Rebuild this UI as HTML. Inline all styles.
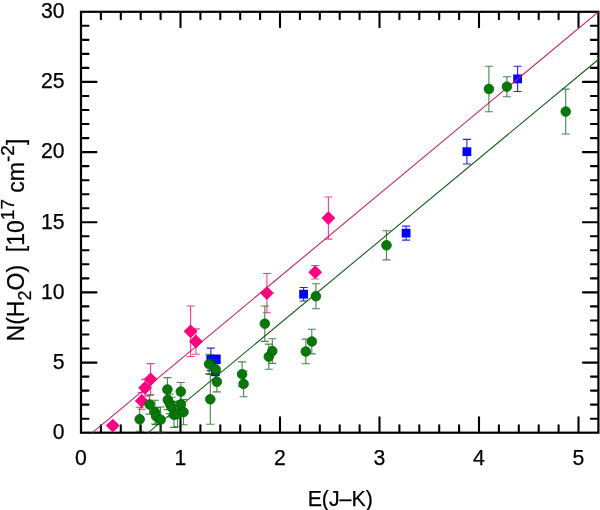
<!DOCTYPE html>
<html><head><meta charset="utf-8"><title>N(H2O) vs E(J-K)</title>
<style>html,body{margin:0;padding:0;background:#fff}svg{display:block}text{font-family:"Liberation Sans",Arial,sans-serif;font-size:21.2px;white-space:pre;fill:#000;stroke:#000;stroke-width:0.25px}</style>
</head><body>
<svg width="600" height="510" viewBox="0 0 600 510">
<rect width="600" height="510" fill="#fff"/>
<g>
<rect x="81.0" y="11.8" width="517.4" height="420.9" fill="none" stroke="#000" stroke-width="2.2"/>
<path d="M100.9 432.2v-7.0M100.9 12.3v7.0M120.8 432.2v-7.0M120.8 12.3v7.0M140.7 432.2v-7.0M140.7 12.3v7.0M160.6 432.2v-7.0M160.6 12.3v7.0M180.5 432.2v-15.0M180.5 12.3v15.0M200.4 432.2v-7.0M200.4 12.3v7.0M220.3 432.2v-7.0M220.3 12.3v7.0M240.2 432.2v-7.0M240.2 12.3v7.0M260.1 432.2v-7.0M260.1 12.3v7.0M280.0 432.2v-15.0M280.0 12.3v15.0M299.9 432.2v-7.0M299.9 12.3v7.0M319.8 432.2v-7.0M319.8 12.3v7.0M339.7 432.2v-7.0M339.7 12.3v7.0M359.6 432.2v-7.0M359.6 12.3v7.0M379.5 432.2v-15.0M379.5 12.3v15.0M399.4 432.2v-7.0M399.4 12.3v7.0M419.3 432.2v-7.0M419.3 12.3v7.0M439.2 432.2v-7.0M439.2 12.3v7.0M459.1 432.2v-7.0M459.1 12.3v7.0M479.0 432.2v-15.0M479.0 12.3v15.0M498.9 432.2v-7.0M498.9 12.3v7.0M518.8 432.2v-7.0M518.8 12.3v7.0M538.7 432.2v-7.0M538.7 12.3v7.0M558.6 432.2v-7.0M558.6 12.3v7.0M578.5 432.2v-15.0M578.5 12.3v15.0M81.5 418.7h7.0M597.9 418.7h-7.0M81.5 404.6h7.0M597.9 404.6h-7.0M81.5 390.6h7.0M597.9 390.6h-7.0M81.5 376.6h7.0M597.9 376.6h-7.0M81.5 362.6h15.0M597.9 362.6h-15.0M81.5 348.5h7.0M597.9 348.5h-7.0M81.5 334.5h7.0M597.9 334.5h-7.0M81.5 320.5h7.0M597.9 320.5h-7.0M81.5 306.4h7.0M597.9 306.4h-7.0M81.5 292.4h15.0M597.9 292.4h-15.0M81.5 278.4h7.0M597.9 278.4h-7.0M81.5 264.3h7.0M597.9 264.3h-7.0M81.5 250.3h7.0M597.9 250.3h-7.0M81.5 236.3h7.0M597.9 236.3h-7.0M81.5 222.2h15.0M597.9 222.2h-15.0M81.5 208.2h7.0M597.9 208.2h-7.0M81.5 194.2h7.0M597.9 194.2h-7.0M81.5 180.2h7.0M597.9 180.2h-7.0M81.5 166.1h7.0M597.9 166.1h-7.0M81.5 152.1h15.0M597.9 152.1h-15.0M81.5 138.1h7.0M597.9 138.1h-7.0M81.5 124.0h7.0M597.9 124.0h-7.0M81.5 110.0h7.0M597.9 110.0h-7.0M81.5 96.0h7.0M597.9 96.0h-7.0M81.5 81.9h15.0M597.9 81.9h-15.0M81.5 67.9h7.0M597.9 67.9h-7.0M81.5 53.9h7.0M597.9 53.9h-7.0M81.5 39.9h7.0M597.9 39.9h-7.0M81.5 25.8h7.0M597.9 25.8h-7.0" stroke="#000" stroke-width="2.1" stroke-linecap="round" fill="none"/>
</g>
<g>
<path d="M210.8 348.1V370.6M206.8 348.1h8M206.8 370.6h8" stroke="#0000d8" stroke-width="1.1" fill="none" opacity="0.85"/>
<path d="M216.3 355.1V363.6M212.3 355.1h8M212.3 363.6h8" stroke="#0000d8" stroke-width="1.1" fill="none" opacity="0.85"/>
<path d="M215.3 367.2V375.6M211.3 367.2h8M211.3 375.6h8" stroke="#0000d8" stroke-width="1.1" fill="none" opacity="0.85"/>
<path d="M303.6 287.5V301.0M299.6 287.5h8M299.6 301.0h8" stroke="#0000d8" stroke-width="1.1" fill="none" opacity="0.85"/>
<path d="M406.1 226.1V240.1M402.1 226.1h8M402.1 240.1h8" stroke="#0000d8" stroke-width="1.1" fill="none" opacity="0.85"/>
<path d="M466.9 139.4V164.0M462.9 139.4h8M462.9 164.0h8" stroke="#0000d8" stroke-width="1.1" fill="none" opacity="0.85"/>
<path d="M517.6 66.3V91.5M513.6 66.3h8M513.6 91.5h8" stroke="#0000d8" stroke-width="1.1" fill="none" opacity="0.85"/>
<rect x="206.4" y="354.9" width="8.8" height="8.8" fill="#0000ff"/>
<rect x="211.9" y="354.9" width="8.8" height="8.8" fill="#0000ff"/>
<rect x="210.9" y="367.0" width="8.8" height="8.8" fill="#0000ff"/>
<rect x="299.2" y="289.8" width="8.8" height="8.8" fill="#0000ff"/>
<rect x="401.7" y="228.7" width="8.8" height="8.8" fill="#0000ff"/>
<rect x="462.5" y="147.3" width="8.8" height="8.8" fill="#0000ff"/>
<rect x="513.2" y="74.5" width="8.8" height="8.8" fill="#0000ff"/>
<path d="M112.8 422.8V428.4M108.8 422.8h8M108.8 428.4h8" stroke="#f0107c" stroke-width="1.1" fill="none" opacity="0.8"/>
<path d="M141.7 392.5V409.3M137.7 392.5h8M137.7 409.3h8" stroke="#f0107c" stroke-width="1.1" fill="none" opacity="0.8"/>
<path d="M145.1 379.4V396.2M141.1 379.4h8M141.1 396.2h8" stroke="#f0107c" stroke-width="1.1" fill="none" opacity="0.8"/>
<path d="M150.6 363.6V395.0M146.6 363.6h8M146.6 395.0h8" stroke="#f0107c" stroke-width="1.1" fill="none" opacity="0.8"/>
<path d="M190.6 306.0V356.5M186.6 306.0h8M186.6 356.5h8" stroke="#f0107c" stroke-width="1.1" fill="none" opacity="0.8"/>
<path d="M195.9 328.9V354.2M191.9 328.9h8M191.9 354.2h8" stroke="#f0107c" stroke-width="1.1" fill="none" opacity="0.8"/>
<path d="M266.9 273.5V312.8M262.9 273.5h8M262.9 312.8h8" stroke="#f0107c" stroke-width="1.1" fill="none" opacity="0.8"/>
<path d="M315.2 265.5V279.0M311.2 265.5h8M311.2 279.0h8" stroke="#f0107c" stroke-width="1.1" fill="none" opacity="0.8"/>
<path d="M328.4 197.0V239.1M324.4 197.0h8M324.4 239.1h8" stroke="#f0107c" stroke-width="1.1" fill="none" opacity="0.8"/>
<path d="M112.8 418.7L119.7 425.6L112.8 432.5L105.9 425.6Z" fill="#ff007f"/>
<path d="M141.7 394.0L148.6 400.9L141.7 407.8L134.8 400.9Z" fill="#ff007f"/>
<path d="M145.1 380.9L152.0 387.8L145.1 394.7L138.2 387.8Z" fill="#ff007f"/>
<path d="M150.6 372.4L157.5 379.3L150.6 386.2L143.7 379.3Z" fill="#ff007f"/>
<path d="M190.6 324.4L197.5 331.3L190.6 338.2L183.7 331.3Z" fill="#ff007f"/>
<path d="M195.9 334.6L202.8 341.5L195.9 348.4L189.0 341.5Z" fill="#ff007f"/>
<path d="M266.9 286.2L273.8 293.1L266.9 300.0L260.0 293.1Z" fill="#ff007f"/>
<path d="M315.2 265.3L322.1 272.2L315.2 279.1L308.3 272.2Z" fill="#ff007f"/>
<path d="M328.4 211.2L335.3 218.1L328.4 225.0L321.5 218.1Z" fill="#ff007f"/>
<line x1="92.4" y1="432.7" x2="598.4" y2="11.8" stroke="#c41a64" stroke-width="1.05"/>
<line x1="148.2" y1="432.7" x2="598.4" y2="59.5" stroke="#0c5a14" stroke-width="1.05"/>
<path d="M139.7 407.3V431.2M135.7 407.3h8M135.7 431.2h8" stroke="#005a00" stroke-width="1.1" fill="none" opacity="0.72"/>
<path d="M149.6 395.0V414.1M145.6 395.0h8M145.6 414.1h8" stroke="#005a00" stroke-width="1.1" fill="none" opacity="0.72"/>
<path d="M155.0 400.2V424.0M151.0 400.2h8M151.0 424.0h8" stroke="#005a00" stroke-width="1.1" fill="none" opacity="0.72"/>
<path d="M156.1 407.7V424.6M152.1 407.7h8M152.1 424.6h8" stroke="#005a00" stroke-width="1.1" fill="none" opacity="0.72"/>
<path d="M160.6 407.0V432.3M156.6 407.0h8M156.6 432.3h8" stroke="#005a00" stroke-width="1.1" fill="none" opacity="0.72"/>
<path d="M167.4 377.6V401.4M163.4 377.6h8M163.4 401.4h8" stroke="#005a00" stroke-width="1.1" fill="none" opacity="0.72"/>
<path d="M167.8 389.9V409.6M163.8 389.9h8M163.8 409.6h8" stroke="#005a00" stroke-width="1.1" fill="none" opacity="0.72"/>
<path d="M169.9 394.0V413.6M165.9 394.0h8M165.9 413.6h8" stroke="#005a00" stroke-width="1.1" fill="none" opacity="0.72"/>
<path d="M171.5 397.2V416.9M167.5 397.2h8M167.5 416.9h8" stroke="#005a00" stroke-width="1.1" fill="none" opacity="0.72"/>
<path d="M174.0 402.1V427.4M170.0 402.1h8M170.0 427.4h8" stroke="#005a00" stroke-width="1.1" fill="none" opacity="0.72"/>
<path d="M177.5 401.4V426.7M173.5 401.4h8M173.5 426.7h8" stroke="#005a00" stroke-width="1.1" fill="none" opacity="0.72"/>
<path d="M180.8 382.5V400.7M176.8 382.5h8M176.8 400.7h8" stroke="#005a00" stroke-width="1.1" fill="none" opacity="0.72"/>
<path d="M180.8 394.7V414.3M176.8 394.7h8M176.8 414.3h8" stroke="#005a00" stroke-width="1.1" fill="none" opacity="0.72"/>
<path d="M183.5 399.5V424.7M179.5 399.5h8M179.5 424.7h8" stroke="#005a00" stroke-width="1.1" fill="none" opacity="0.72"/>
<path d="M210.3 374.4V424.3M206.3 374.4h8M206.3 424.3h8" stroke="#005a00" stroke-width="1.1" fill="none" opacity="0.72"/>
<path d="M209.1 354.3V373.9M205.1 354.3h8M205.1 373.9h8" stroke="#005a00" stroke-width="1.1" fill="none" opacity="0.72"/>
<path d="M215.6 359.6V379.3M211.6 359.6h8M211.6 379.3h8" stroke="#005a00" stroke-width="1.1" fill="none" opacity="0.72"/>
<path d="M216.9 371.7V391.9M212.9 371.7h8M212.9 391.9h8" stroke="#005a00" stroke-width="1.1" fill="none" opacity="0.72"/>
<path d="M242.1 361.9V386.6M238.1 361.9h8M238.1 386.6h8" stroke="#005a00" stroke-width="1.1" fill="none" opacity="0.72"/>
<path d="M243.6 371.0V396.8M239.6 371.0h8M239.6 396.8h8" stroke="#005a00" stroke-width="1.1" fill="none" opacity="0.72"/>
<path d="M264.8 306.0V341.4M260.8 306.0h8M260.8 341.4h8" stroke="#005a00" stroke-width="1.1" fill="none" opacity="0.72"/>
<path d="M268.8 344.1V369.3M264.8 344.1h8M264.8 369.3h8" stroke="#005a00" stroke-width="1.1" fill="none" opacity="0.72"/>
<path d="M272.3 338.7V363.4M268.3 338.7h8M268.3 363.4h8" stroke="#005a00" stroke-width="1.1" fill="none" opacity="0.72"/>
<path d="M305.8 339.1V363.8M301.8 339.1h8M301.8 363.8h8" stroke="#005a00" stroke-width="1.1" fill="none" opacity="0.72"/>
<path d="M311.8 329.2V353.9M307.8 329.2h8M307.8 353.9h8" stroke="#005a00" stroke-width="1.1" fill="none" opacity="0.72"/>
<path d="M315.9 283.7V308.7M311.9 283.7h8M311.9 308.7h8" stroke="#005a00" stroke-width="1.1" fill="none" opacity="0.72"/>
<path d="M386.5 230.7V259.9M382.5 230.7h8M382.5 259.9h8" stroke="#005a00" stroke-width="1.1" fill="none" opacity="0.72"/>
<path d="M488.9 66.3V111.7M484.9 66.3h8M484.9 111.7h8" stroke="#005a00" stroke-width="1.1" fill="none" opacity="0.72"/>
<path d="M506.9 76.8V96.7M502.9 76.8h8M502.9 96.7h8" stroke="#005a00" stroke-width="1.1" fill="none" opacity="0.72"/>
<path d="M565.7 89.1V134.0M561.7 89.1h8M561.7 134.0h8" stroke="#005a00" stroke-width="1.1" fill="none" opacity="0.72"/>
<circle cx="139.7" cy="419.3" r="4.8" fill="#08780a" stroke="#006200" stroke-width="0.8"/>
<circle cx="149.6" cy="404.5" r="4.8" fill="#08780a" stroke="#006200" stroke-width="0.8"/>
<circle cx="155.0" cy="412.1" r="4.8" fill="#08780a" stroke="#006200" stroke-width="0.8"/>
<circle cx="156.1" cy="416.2" r="4.8" fill="#08780a" stroke="#006200" stroke-width="0.8"/>
<circle cx="160.6" cy="419.7" r="4.8" fill="#08780a" stroke="#006200" stroke-width="0.8"/>
<circle cx="167.4" cy="389.5" r="4.8" fill="#08780a" stroke="#006200" stroke-width="0.8"/>
<circle cx="167.8" cy="399.8" r="4.8" fill="#08780a" stroke="#006200" stroke-width="0.8"/>
<circle cx="169.9" cy="403.8" r="4.8" fill="#08780a" stroke="#006200" stroke-width="0.8"/>
<circle cx="171.5" cy="407.0" r="4.8" fill="#08780a" stroke="#006200" stroke-width="0.8"/>
<circle cx="174.0" cy="414.8" r="4.8" fill="#08780a" stroke="#006200" stroke-width="0.8"/>
<circle cx="177.5" cy="414.1" r="4.8" fill="#08780a" stroke="#006200" stroke-width="0.8"/>
<circle cx="180.8" cy="391.6" r="4.8" fill="#08780a" stroke="#006200" stroke-width="0.8"/>
<circle cx="180.8" cy="404.5" r="4.8" fill="#08780a" stroke="#006200" stroke-width="0.8"/>
<circle cx="183.5" cy="412.1" r="4.8" fill="#08780a" stroke="#006200" stroke-width="0.8"/>
<circle cx="210.3" cy="399.3" r="4.8" fill="#08780a" stroke="#006200" stroke-width="0.8"/>
<circle cx="209.1" cy="364.1" r="4.8" fill="#08780a" stroke="#006200" stroke-width="0.8"/>
<circle cx="215.6" cy="369.4" r="4.8" fill="#08780a" stroke="#006200" stroke-width="0.8"/>
<circle cx="216.9" cy="381.8" r="4.8" fill="#08780a" stroke="#006200" stroke-width="0.8"/>
<circle cx="242.1" cy="374.2" r="4.8" fill="#08780a" stroke="#006200" stroke-width="0.8"/>
<circle cx="243.6" cy="383.9" r="4.8" fill="#08780a" stroke="#006200" stroke-width="0.8"/>
<circle cx="264.8" cy="323.7" r="4.8" fill="#08780a" stroke="#006200" stroke-width="0.8"/>
<circle cx="268.8" cy="356.7" r="4.8" fill="#08780a" stroke="#006200" stroke-width="0.8"/>
<circle cx="272.3" cy="351.1" r="4.8" fill="#08780a" stroke="#006200" stroke-width="0.8"/>
<circle cx="305.8" cy="351.5" r="4.8" fill="#08780a" stroke="#006200" stroke-width="0.8"/>
<circle cx="311.8" cy="341.5" r="4.8" fill="#08780a" stroke="#006200" stroke-width="0.8"/>
<circle cx="315.9" cy="296.2" r="4.8" fill="#08780a" stroke="#006200" stroke-width="0.8"/>
<circle cx="386.5" cy="245.3" r="4.8" fill="#08780a" stroke="#006200" stroke-width="0.8"/>
<circle cx="488.9" cy="89.0" r="4.8" fill="#08780a" stroke="#006200" stroke-width="0.8"/>
<circle cx="506.9" cy="86.7" r="4.8" fill="#08780a" stroke="#006200" stroke-width="0.8"/>
<circle cx="565.7" cy="111.6" r="4.8" fill="#08780a" stroke="#006200" stroke-width="0.8"/>
</g>
<g>
<text x="81.0" y="465.3" text-anchor="middle">0</text>
<text x="180.5" y="465.3" text-anchor="middle">1</text>
<text x="280.0" y="465.3" text-anchor="middle">2</text>
<text x="379.5" y="465.3" text-anchor="middle">3</text>
<text x="479.0" y="465.3" text-anchor="middle">4</text>
<text x="578.5" y="465.3" text-anchor="middle">5</text>
<text x="64.6" y="439.0" text-anchor="end">0</text>
<text x="64.6" y="368.9" text-anchor="end">5</text>
<text x="64.6" y="298.7" text-anchor="end">10</text>
<text x="64.6" y="228.6" text-anchor="end">15</text>
<text x="64.6" y="158.4" text-anchor="end">20</text>
<text x="64.6" y="88.2" text-anchor="end">25</text>
<text x="64.6" y="18.1" text-anchor="end">30</text>
<text x="340.2" y="505.6" text-anchor="middle" style="font-size:21.3px">E(J–K)</text>
<text transform="translate(24.4 341.4) rotate(-90)" style="font-size:23px">N(H<tspan style="font-size:18px" dy="6.5">2</tspan><tspan dy="-6.5">O)</tspan>  [10<tspan style="font-size:19px" dy="-10.5">17</tspan><tspan dy="10.5"> cm</tspan><tspan style="font-size:19px" dy="-10.5">-2</tspan><tspan dy="10.5">]</tspan></text>
</g>
</svg>
</body></html>
